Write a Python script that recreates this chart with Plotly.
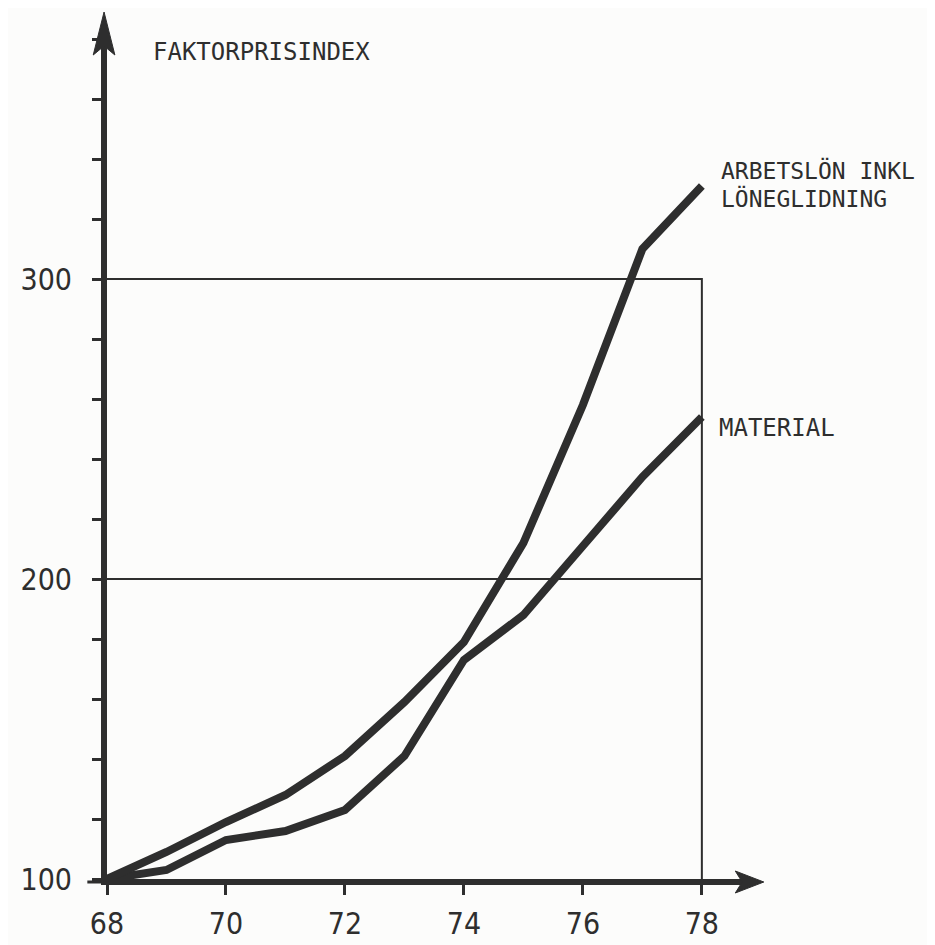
import plotly.graph_objects as go

years = [68, 69, 70, 71, 72, 73, 74, 75, 76, 77, 78]
arbetslon = [100, 109, 119, 128, 141, 159, 179, 212, 258, 310, 331]
material = [100, 103, 113, 116, 123, 141, 173, 188, 211, 234, 254]

x_tick_vals = [68, 70, 72, 74, 76, 78]
x_tick_text = ["68", "70", "72", "74", "76", "78"]
y_tick_vals = list(range(100, 381, 20))
y_tick_text = ["100" if v == 100 else "200" if v == 200 else "300" if v == 300 else "" for v in y_tick_vals]

INK = "#2e2e2e"
W, H = 935, 945
OFF = 8  # page body margin offset
L, T = 96 - OFF, 32 - OFF
PW, PH = 656, 847
R = W - L - PW
B = H - T - PH
PX_PER_YEAR = 60.5
X_MAX = 68 + PW / PX_PER_YEAR
Y_MAX = 100 + PH / 3.0


def px(xp):
    return (xp - OFF - L) / PW


def py(yp):
    return (T + PH - (yp - OFF)) / PH


fig = go.Figure()

# frame lines at 200, 300 and 78
fig.add_trace(go.Scatter(
    x=[68, 78, 78, None, 68, 78],
    y=[300, 300, 100, None, 200, 200],
    mode="lines", line=dict(color=INK, width=2), hoverinfo="skip", showlegend=False))

fig.add_trace(go.Scatter(x=years, y=material, mode="lines",
                         line=dict(color=INK, width=8), name="MATERIAL", showlegend=False))
fig.add_trace(go.Scatter(x=years, y=arbetslon, mode="lines",
                         line=dict(color=INK, width=8), name="ARBETSLÖN INKL LÖNEGLIDNING",
                         showlegend=False))

shapes = []
# y-axis arrowhead
shapes.append(dict(type="path", xref="paper", yref="paper",
                   path=f"M {px(93)} {py(12)} L {px(82)} {py(55)} L {px(93)} {py(46)} L {px(104)} {py(55)} Z",
                   fillcolor=INK, line=dict(color=INK, width=1)))
# x-axis arrowhead
shapes.append(dict(type="path", xref="paper", yref="paper",
                   path=f"M {px(764)} {py(882)} L {px(735)} {py(871)} L {px(742)} {py(882)} L {px(735)} {py(893)} Z",
                   fillcolor=INK, line=dict(color=INK, width=1)))
# left extension of x axis at 100
shapes.append(dict(type="line", xref="paper", yref="paper",
                   x0=px(76), x1=px(92), y0=py(882), y1=py(882),
                   line=dict(color=INK, width=3)))

font_mono = "DejaVu Sans Mono"
big_font = dict(family=font_mono, size=24, color=INK)
pair_font = dict(family=font_mono, size=23, color=INK)
annotations = [
    dict(x=px(141), y=py(52), xref="paper", yref="paper", text="FAKTORPRISINDEX",
         showarrow=False, xanchor="left", yanchor="middle", font=big_font),
    dict(x=px(718), y=py(170), xref="paper", yref="paper", text="ARBETSLÖN INKL",
         showarrow=False, xanchor="left", yanchor="middle", font=pair_font),
    dict(x=px(718), y=py(198), xref="paper", yref="paper", text="LÖNEGLIDNING",
         showarrow=False, xanchor="left", yanchor="middle", font=pair_font),
    dict(x=px(716), y=py(428), xref="paper", yref="paper", text="MATERIAL",
         showarrow=False, xanchor="left", yanchor="middle", font=big_font),
]

tick_font = dict(family="DejaVu Sans Condensed, Roboto, Liberation Sans", size=30, color=INK)

fig.update_layout(
    width=W, height=H,
    margin=dict(l=L, r=R, t=T, b=B),
    paper_bgcolor="#fcfcfb", plot_bgcolor="#fcfcfb",
    shapes=shapes, annotations=annotations,
    showlegend=False,
    xaxis=dict(range=[68, X_MAX], showgrid=False, zeroline=False,
               showline=True, linewidth=6, linecolor=INK,
               ticks="outside", ticklen=10, tickwidth=3, tickcolor=INK,
               tickvals=x_tick_vals, ticktext=x_tick_text, ticklabelstandoff=3,
               tickfont=tick_font),
    yaxis=dict(range=[100, Y_MAX], showgrid=False, zeroline=False,
               showline=True, linewidth=6, linecolor=INK,
               ticks="outside", ticklen=9, tickwidth=3, tickcolor=INK,
               tickvals=y_tick_vals, ticktext=y_tick_text, ticklabelstandoff=14,
               tickfont=tick_font),
)

fig.write_html("out.html")
